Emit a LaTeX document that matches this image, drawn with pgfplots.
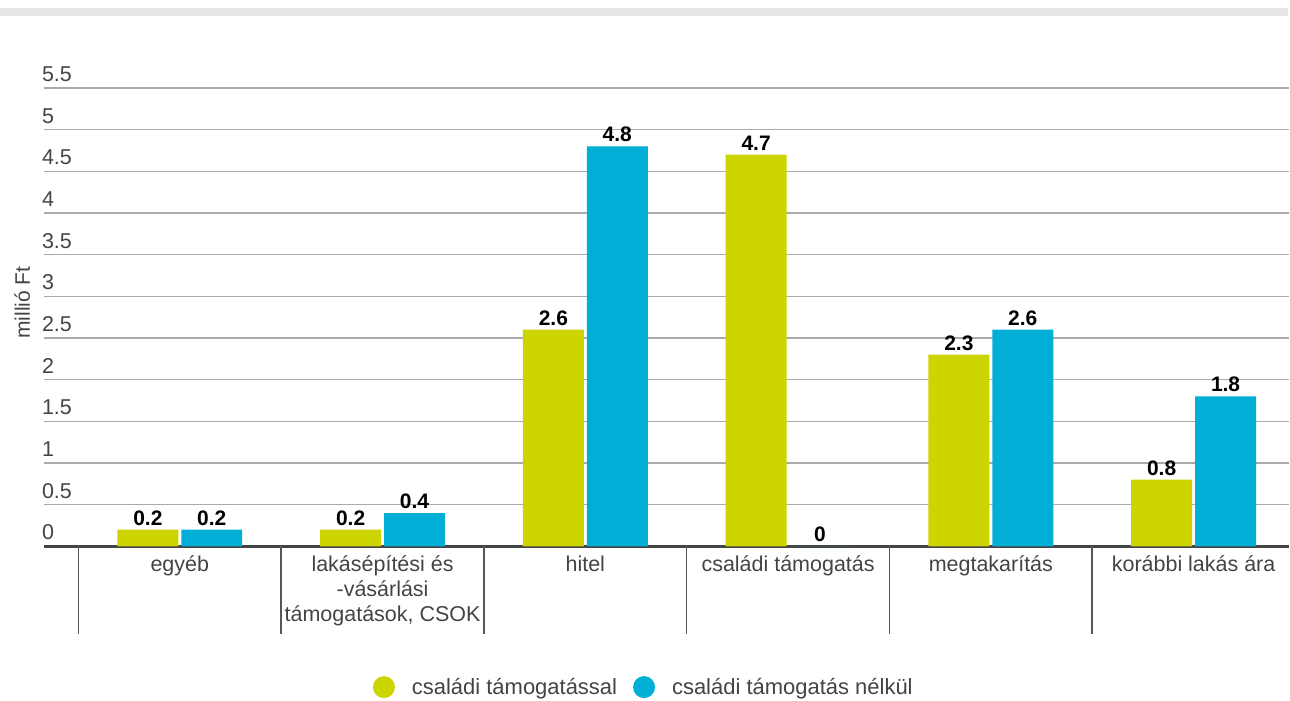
\documentclass[border=0pt]{standalone}
\usepackage{pgfplots}
\pgfplotsset{compat=1.18}
\usepackage{fontspec}
\setmainfont{Liberation Sans}
\definecolor{cgreen}{RGB}{205,213,0}
\definecolor{cblue}{RGB}{0,174,214}
\definecolor{ctext}{RGB}{68,68,68}
\definecolor{cgrid}{RGB}{170,170,170}
\begin{document}
\begin{tikzpicture}[x=1pt,y=1pt]
\path (0,0) rectangle (1290,-700);
\fill[black!10] (0,-8) rectangle (1290,-16);
\begin{axis}[
  at={(44pt,-547pt)}, anchor=south west,
  scale only axis, width=1246pt, height=459pt,
  xmin=-0.670, xmax=5.468, ymin=0, ymax=5.5,
  clip=false,
  ybar=3pt, bar width=61pt,
  axis x line=bottom, axis y line=left,
  axis line style={-},
  x axis line style={draw=ctext, line width=3pt},
  y axis line style={draw=none},
  xtick={0,1,2,3,4,5},
  xticklabels={egyéb,{lakásépítési és\\-vásárlási\\támogatások, CSOK},hitel,családi támogatás,megtakarítás,korábbi lakás ára},
  xtick style={draw=none}, ytick style={draw=none},
  ytick={0,0.5,...,5.5},
  ymajorgrids, grid style={cgrid, line width=1.3pt},
  /pgf/number format/assume math mode=true,
  yticklabel style={anchor=south west, inner sep=0pt, yshift=6pt, xshift=0pt, text=ctext, font=\fontsize{21.5}{24}\selectfont},
  xticklabel style={align=center, anchor=north, yshift=-4pt, text=ctext, font=\fontsize{21.5}{25}\selectfont},
  ylabel={millió Ft},
  every axis y label/.style={at={(axis description cs:-0.0175,0.532)}, rotate=90, anchor=center, text=ctext, font=\fontsize{21}{24}\selectfont},
  nodes near coords,
  every node near coord/.append style={font=\bfseries\fontsize{21}{24}\selectfont, text=black, inner sep=1pt, yshift=3pt},
  legend columns=2,
  legend style={draw=none, at={(0.482,-0.307)}, anchor=center, font=\fontsize{22}{25}\selectfont, text=ctext,
    /tikz/every even column/.append style={column sep=14pt}},
]
\addplot[fill=cgreen, draw=none, legend image code/.code={\fill[cgreen] (0pt,0pt) circle (11pt); \path (26pt,0pt);}] coordinates {(0,0.2) (1,0.2) (2,2.6) (3,4.7) (4,2.3) (5,0.8)};
\addlegendentry{családi támogatással}
\addplot[fill=cblue, draw=none, legend image code/.code={\fill[cblue] (0pt,0pt) circle (11pt); \path (26pt,0pt);}] coordinates {(0,0.2) (1,0.4) (2,4.8) (3,0) (4,2.6) (5,1.8)};
\addlegendentry{családi támogatás nélkül}
\draw[ctext!90, line width=1.5pt] (axis cs:-0.5,0) -- ([yshift=-88pt]axis cs:-0.5,0);
\draw[ctext!90, line width=1.5pt] (axis cs:0.5,0) -- ([yshift=-88pt]axis cs:0.5,0);
\draw[ctext!90, line width=1.5pt] (axis cs:1.5,0) -- ([yshift=-88pt]axis cs:1.5,0);
\draw[ctext!90, line width=1.5pt] (axis cs:2.5,0) -- ([yshift=-88pt]axis cs:2.5,0);
\draw[ctext!90, line width=1.5pt] (axis cs:3.5,0) -- ([yshift=-88pt]axis cs:3.5,0);
\draw[ctext!90, line width=1.5pt] (axis cs:4.5,0) -- ([yshift=-88pt]axis cs:4.5,0);
\end{axis}
\end{tikzpicture}
\end{document}
